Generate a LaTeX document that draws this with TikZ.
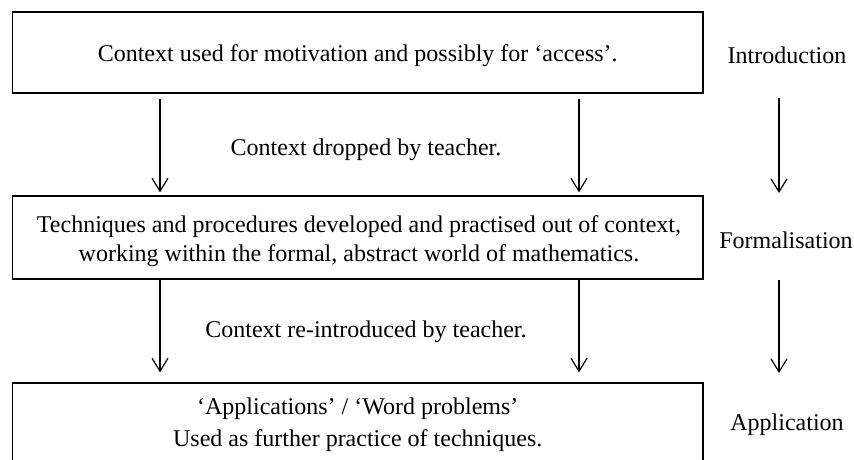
\documentclass[tikz,border=0pt]{standalone}
\usepackage{fontspec}
\setmainfont{Liberation Serif}
\usetikzlibrary{arrows.meta}
\begin{document}
\begin{tikzpicture}[x=1pt,y=-1pt,
  every node/.style={font=\fontsize{24}{29}\selectfont, inner sep=0pt},
  stagebox/.style={draw, line width=1.2pt, minimum width=690.5pt},
  boxtext/.style={align=center},
  arr/.style={line width=1.2pt, -{Straight Barb[length=13pt,width=16pt,line width=1.2pt]}}]
\useasboundingbox (0,0) rectangle (854,460);
\clip (0,0) rectangle (854,460);
\fill[white] (0,0) rectangle (854,460);
% boxes
\node[stagebox, minimum height=81pt] (top) at (357.75,52.5) {};
\node[stagebox, minimum height=83pt] (mid) at (357.75,237.5) {};
\node[stagebox, minimum height=87pt] (bot) at (357.75,426.5) {};
% box texts
\node[boxtext] (toptxt) at (357.75,55.5)
  {Context used for motivation and possibly for ‘access’.};
\node[boxtext] (midtxt) at (359,241)
  {Techniques and procedures developed and practised out of context,\\
   working within the formal, abstract world of mathematics.};
\node[boxtext, font=\fontsize{24}{32}\selectfont] (bottxt) at (357.75,425)
  {‘Applications’ / ‘Word problems’\\ Used as further practice of techniques.};
% side labels
\node (intro) at (787,55) {Introduction};
\node (formal) at (786,240) {Formalisation};
\node (appl) at (787,425) {Application};
% connector labels
\node (drop) at (366,150) {Context dropped by teacher.};
\node (reint) at (366,332) {Context re-introduced by teacher.};
% side arrow ends
\coordinate (s1a) at (779,98);
\coordinate (s1b) at (779,193);
\coordinate (s2a) at (779,280);
\coordinate (s2b) at (779,373);
% arrows between boxes
\draw[arr] ([yshift=-5pt]top.south -| 160,0) -- ([yshift=3pt]mid.north -| 160,0);
\draw[arr] ([yshift=-5pt]top.south -| 579,0) -- ([yshift=3pt]mid.north -| 579,0);
\draw[arr] (mid.south -| 160,0) -- ([yshift=10pt]bot.north -| 160,0);
\draw[arr] (mid.south -| 579,0) -- ([yshift=10pt]bot.north -| 579,0);
% side arrows
\draw[arr] (s1a) -- (s1b);
\draw[arr] (s2a) -- (s2b);
\end{tikzpicture}
\end{document}
